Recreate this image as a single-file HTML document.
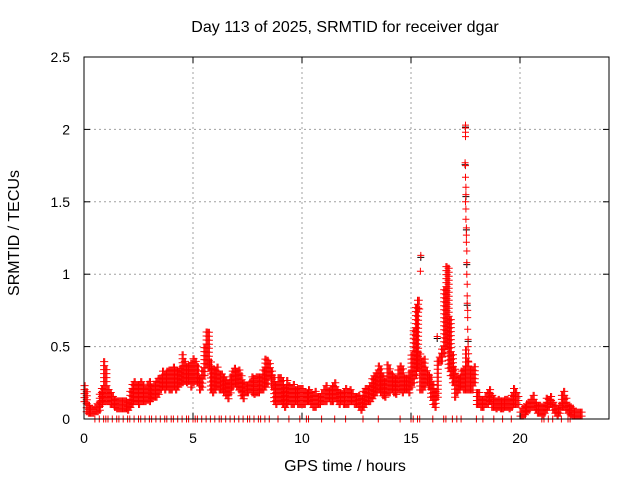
<!DOCTYPE html>
<html><head><meta charset="utf-8"><style>
body{margin:0;background:#fff}
svg text{font-family:"Liberation Sans",sans-serif;font-size:14px;fill:#000}
svg text.big{font-size:16px}
</style></head><body>
<svg id="chart" width="640" height="480" viewBox="0 0 640 480" xmlns="http://www.w3.org/2000/svg">
<rect width="640" height="480" fill="#fff"/>
<g id="grid"></g>
<g id="marks"></g>
<g id="axes"></g>
<text class="big" x="345" y="32" text-anchor="middle">Day 113 of 2025, SRMTID for receiver dgar</text>
<text class="big" x="345" y="471" text-anchor="middle">GPS time / hours</text>
<text class="big" transform="translate(19,233) rotate(-90)" text-anchor="middle">SRMTID / TECUs</text>
</svg>
<script>
const xTicks=[0,5,10,15,20];
const yTicks=[0,0.5,1,1.5,2,2.5];
const yTickLabels=["0","0.5","1","1.5","2","2.5"];
const lo=[0.12,0.05,0.04,0.04,0.04,0.05,0.05,0.06,0.1,0.12,
0.12,0.12,0.1,0.1,0.08,0.07,0.07,0.07,0.07,0.07,
0.06,0.08,0.1,0.12,0.12,0.1,0.12,0.12,0.12,0.13,
0.12,0.14,0.15,0.15,0.17,0.2,0.22,0.2,0.22,0.2,
0.2,0.22,0.2,0.22,0.24,0.25,0.26,0.25,0.26,0.22,
0.25,0.26,0.25,0.2,0.22,0.3,0.38,0.35,0.2,0.18,
0.2,0.22,0.2,0.2,0.18,0.16,0.14,0.18,0.22,0.24,
0.22,0.2,0.16,0.14,0.18,0.18,0.2,0.18,0.17,0.18,
0.18,0.2,0.2,0.22,0.24,0.3,0.22,0.12,0.1,0.12,
0.12,0.1,0.08,0.1,0.12,0.1,0.1,0.12,0.1,0.1,
0.1,0.1,0.12,0.12,0.1,0.08,0.08,0.1,0.1,0.12,
0.12,0.12,0.14,0.12,0.12,0.14,0.12,0.1,0.12,0.1,
0.1,0.1,0.12,0.12,0.1,0.1,0.08,0.06,0.08,0.1,
0.12,0.12,0.14,0.16,0.18,0.2,0.18,0.16,0.15,0.18,
0.18,0.2,0.18,0.17,0.2,0.2,0.18,0.2,0.2,0.18,
0.22,0.25,0.3,0.35,0.2,0.2,0.22,0.25,0.22,0.15,
0.1,0.08,0.15,0.4,0.4,0.45,0.5,0.35,0.3,0.25,
0.15,0.18,0.2,0.22,0.2,0.2,0.2,0.2,0.2,0.25,
0.1,0.1,0.08,0.08,0.1,0.1,0.12,0.08,0.08,0.07,
0.08,0.07,0.07,0.08,0.08,0.07,0.08,0.1,0.1,0.1,
0.02,0.02,0.03,0.05,0.06,0.08,0.08,0.06,0.04,0.04,
0.03,0.04,0.06,0.08,0.1,0.06,0.04,0.02,0.04,0.08,
0.08,0.06,0.04,0.03,0.02,0.02,0.02,0.02,0.02];
const hi=[0.24,0.2,0.1,0.09,0.08,0.1,0.12,0.18,0.22,0.42,
0.35,0.22,0.2,0.18,0.15,0.14,0.13,0.14,0.14,0.13,
0.14,0.2,0.25,0.27,0.25,0.25,0.27,0.24,0.22,0.25,
0.27,0.24,0.25,0.28,0.28,0.3,0.33,0.32,0.35,0.35,
0.35,0.37,0.35,0.34,0.36,0.45,0.4,0.36,0.38,0.4,
0.42,0.4,0.38,0.3,0.35,0.52,0.62,0.6,0.4,0.36,
0.35,0.38,0.33,0.32,0.3,0.28,0.26,0.3,0.33,0.35,
0.35,0.34,0.3,0.27,0.25,0.25,0.28,0.3,0.28,0.3,
0.3,0.3,0.35,0.42,0.42,0.4,0.35,0.3,0.25,0.3,
0.3,0.28,0.22,0.27,0.25,0.22,0.24,0.22,0.22,0.22,
0.22,0.2,0.2,0.22,0.2,0.18,0.2,0.18,0.18,0.2,
0.22,0.24,0.22,0.22,0.23,0.25,0.22,0.2,0.2,0.2,
0.22,0.2,0.22,0.2,0.18,0.18,0.17,0.15,0.2,0.22,
0.22,0.25,0.3,0.3,0.33,0.38,0.35,0.3,0.28,0.4,
0.35,0.32,0.3,0.3,0.35,0.38,0.35,0.3,0.3,0.32,
0.45,0.62,0.78,0.82,0.45,0.42,0.42,0.35,0.32,0.3,
0.25,0.2,0.4,0.45,0.5,0.9,1.07,1.05,0.7,0.45,
0.35,0.3,0.3,0.35,0.35,0.5,0.4,0.35,0.35,0.38,
0.2,0.2,0.16,0.15,0.18,0.2,0.22,0.18,0.15,0.14,
0.14,0.13,0.14,0.15,0.14,0.13,0.18,0.22,0.2,0.18,
0.07,0.08,0.1,0.12,0.14,0.16,0.18,0.14,0.12,0.12,
0.1,0.12,0.15,0.16,0.18,0.14,0.1,0.08,0.12,0.18,
0.2,0.16,0.12,0.1,0.08,0.07,0.06,0.05,0.05];
const spikeT=[17.5,17.5,17.5,17.5,17.48,17.5,17.5,17.52,17.52,17.5,17.52,17.52,17.54,17.54,17.54,17.56,17.56,17.56,17.58,17.58,17.58,17.6,17.6,17.6,17.62,17.62,17.64,17.64,15.45,15.43,15.38,15.4,16.2];
const spikeV=[2.03,2.01,1.98,1.95,1.77,1.75,1.67,1.6,1.55,1.5,1.45,1.38,1.32,1.27,1.22,1.16,1.08,1.0,0.93,0.85,0.8,0.75,0.7,0.62,0.55,0.5,0.45,0.4,1.13,1.02,0.82,0.76,0.57];
const zeroT=[0.5,0.7,0.9,1.0,1.1,1.3,1.5,1.6,1.8,2.0,2.1,2.3,2.5,2.6,2.8,3.0,3.1,3.3,3.5,3.7,3.8,4.0,4.1,4.3,4.5,4.7,4.8,5.0,5.1,5.2,5.4,5.6,5.8,6.0,6.2,6.3,6.5,6.7,6.9,7.1,7.3,7.5,7.6,7.8,8.0,8.1,8.3,8.5,8.9,9.4,9.9,10.2,10.3,10.9,11.5,12.0,12.8,13.5,14.5,15.0,15.1,15.3,15.4,16.0,16.5,16.6,16.9,17.1,17.3,18.0,18.3,18.8,19.2,19.6,21.0,21.1,21.3,21.5,21.9,22.2,22.3];
const X0=84,PXH=21.8,Y0=419,PXU=144.8,XR=609,YT=57;
const sx=t=>X0+t*PXH, sy=v=>Y0-v*PXU;
const NS="http://www.w3.org/2000/svg";
function mk(tag,attrs,parent){const e=document.createElementNS(NS,tag);for(const k in attrs)e.setAttribute(k,attrs[k]);parent.appendChild(e);return e;}
const grid=document.getElementById('grid'),marks=document.getElementById('marks'),axes=document.getElementById('axes');
xTicks.forEach(t=>{const x=sx(t);
 if(t>0){const g=mk('line',{x1:x,y1:YT,x2:x,y2:Y0,stroke:'#a0a0a0','stroke-dasharray':'2,3'},grid);
 
 }
 mk('line',{x1:x,y1:Y0,x2:x,y2:Y0-6,stroke:'#000'},axes);
 mk('line',{x1:x,y1:YT,x2:x,y2:YT+6,stroke:'#000'},axes);
 const l=mk('text',{x:x,y:443,'text-anchor':'middle'},axes);l.textContent=String(t);
 
 });
yTicks.forEach((v,i)=>{const y=sy(v);
 if(v>0&&v<2.5){const g=mk('line',{x1:X0,y1:y,x2:XR,y2:y,stroke:'#a0a0a0','stroke-dasharray':'2,3'},grid);
 
 }
 mk('line',{x1:X0,y1:y,x2:X0+6,y2:y,stroke:'#000'},axes);
 mk('line',{x1:XR,y1:y,x2:XR-6,y2:y,stroke:'#000'},axes);
 const l=mk('text',{x:70,y:y+5,'text-anchor':'end'},axes);l.textContent=yTickLabels[i];
 
 });
const fr=mk('rect',{x:X0,y:YT,width:XR-X0,height:Y0-YT,fill:'none',stroke:'#000'},axes);


let d='',db='';
function plus(x,y){return `M${(x-3.5).toFixed(1)} ${y.toFixed(1)}h7M${x.toFixed(1)} ${(y-3.5).toFixed(1)}v7`;}
lo.forEach((l,i)=>{const t=i*0.1;
 for(let s=0;s<2;s++){const x=sx(t+s*0.05);const ya=sy(l),yb=sy(hi[i]);
  for(let y=ya;y>=yb-0.1;y-=4)d+=plus(x,y);}});
spikeT.forEach((t,i)=>{d+=plus(sx(t),sy(spikeV[i]));if(i%4===0)db+=plus(sx(t),sy(spikeV[i])+2);});
zeroT.forEach(t=>{d+=plus(sx(t),Y0);});
const pb=mk('path',{d:db,stroke:'#000','stroke-width':1,fill:'none'},marks);


const pr=mk('path',{d:d,stroke:'#ff0000','stroke-width':1,fill:'none'},marks);


</script>
</body></html>
